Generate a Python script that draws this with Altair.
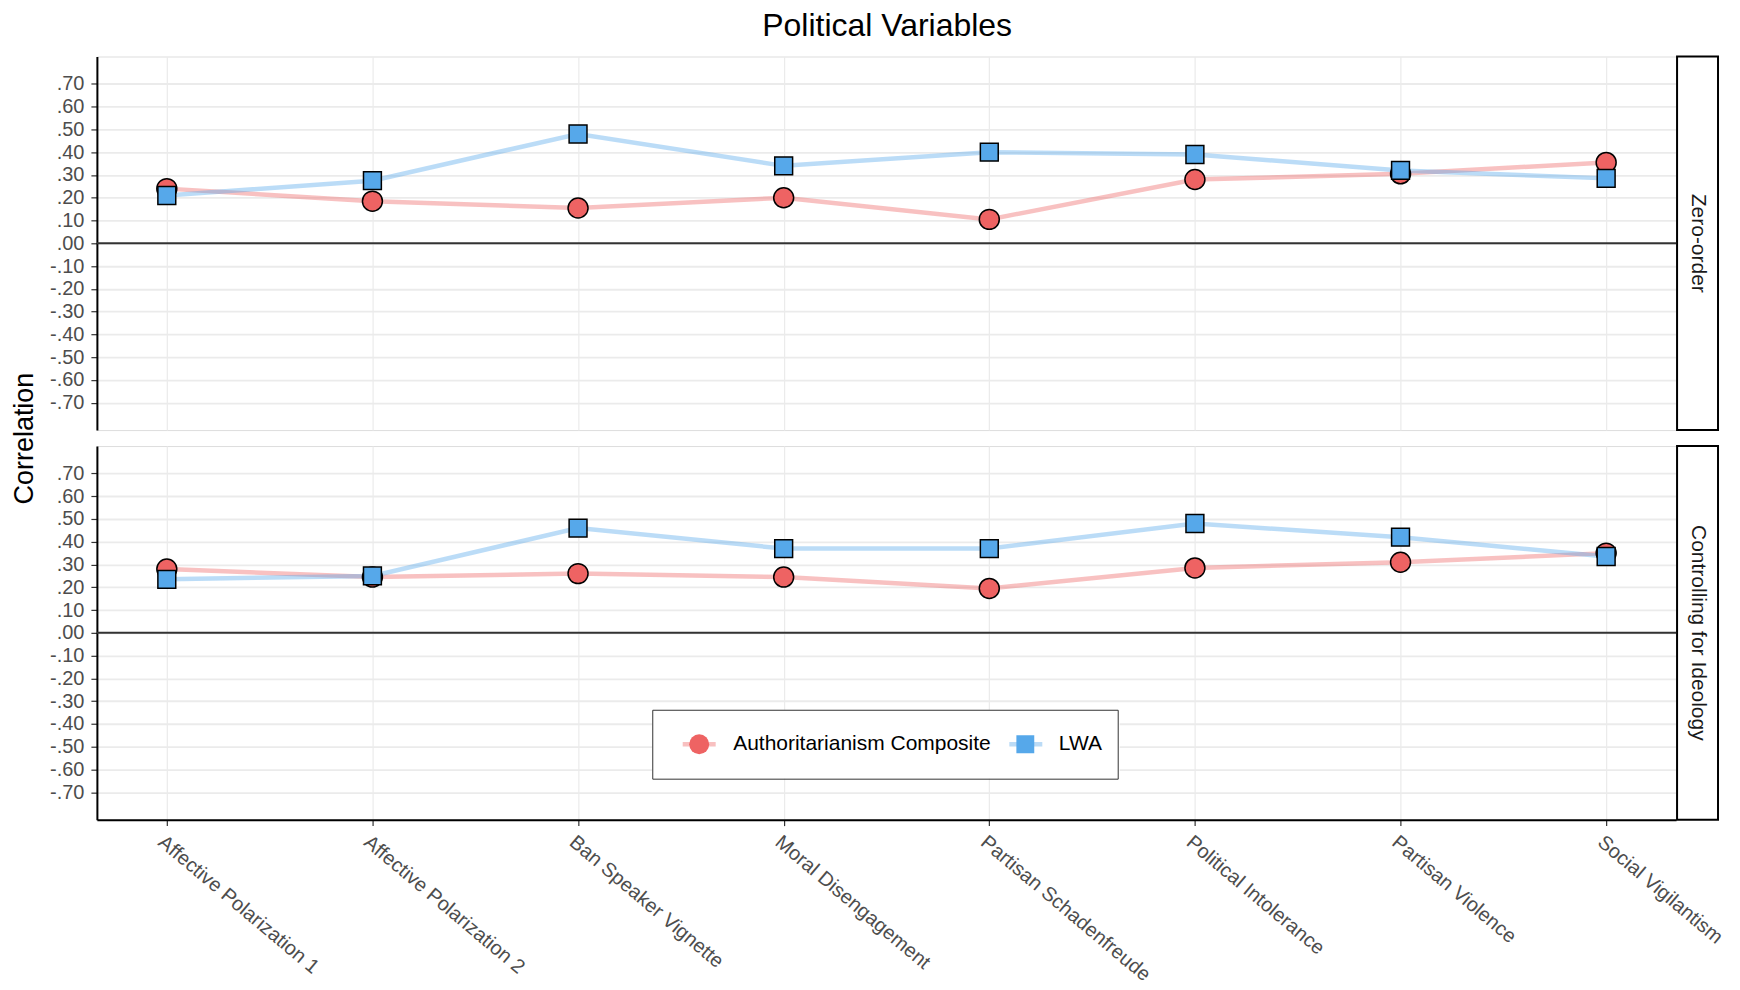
import altair as alt
import pandas as pd

categories = [
    "Affective Polarization 1",
    "Affective Polarization 2",
    "Ban Speaker Vignette",
    "Moral Disengagement",
    "Partisan Schadenfreude",
    "Political Intolerance",
    "Partisan Violence",
    "Social Vigilantism",
]
series_names = ["Authoritarianism Composite", "LWA"]
panel_names = ["Zero-order", "Controlling for Ideology"]

zero_auth = [0.24, 0.185, 0.155, 0.20, 0.105, 0.28, 0.305, 0.355]
zero_lwa = [0.21, 0.275, 0.48, 0.34, 0.40, 0.39, 0.32, 0.285]
ctrl_auth = [0.28, 0.245, 0.26, 0.245, 0.195, 0.285, 0.31, 0.35]
ctrl_lwa = [0.235, 0.25, 0.46, 0.37, 0.37, 0.48, 0.42, 0.335]

y_ticks = [-0.7, -0.6, -0.5, -0.4, -0.3, -0.2, -0.1, 0.0,
           0.1, 0.2, 0.3, 0.4, 0.5, 0.6, 0.7]
zero_line = [0.0]

FONT = "Liberation Sans"
point_colors = ["#EE6363", "#56A8EA"]
point_shapes = ["circle", "square"]
point_sizes = [400, 320]

W = 1581
H = 374


def make_df(auth, lwa):
    rows = []
    for s, vals in zip(series_names, [auth, lwa]):
        for c, v in zip(categories, vals):
            rows.append({"category": c, "series": s, "series_l": s, "r": v})
    return pd.DataFrame(rows)


# legend placement inside the bottom panel
LX, LY = 556, 264
LW, LH = 468, 69

point_legend = alt.Legend(
    title=None, orient="none", legendX=LX, legendY=LY, direction="horizontal",
    symbolStrokeColor="black", symbolStrokeWidth=1.5, labelFontSize=21,
    labelColor="black", labelLimit=600, strokeColor="#333333", padding=15,
    clipHeight=39, symbolOffset=21, labelOffset=23, columnPadding=3, zindex=2,
)
line_legend = alt.Legend(
    title=None, orient="none", legendX=LX, legendY=LY, direction="horizontal",
    symbolType="stroke", symbolSize=1089, symbolStrokeWidth=4.5, symbolOpacity=0.4,
    labelFontSize=21, labelExpr="''", padding=15, clipHeight=39,
    symbolOffset=13, labelOffset=15, columnPadding=261, zindex=1,
)


def panel(auth, lwa, label, bottom):
    df = make_df(auth, lwa)
    if bottom:
        xaxis = alt.Axis(
            title=None, labelAngle=40, labelAlign="left", labelBaseline="top",
            labelFontSize=20, labelColor="#4D4D4D", labelPadding=6, labelLimit=500,
            labelOverlap=False, tickColor="#333333", tickSize=6, tickWidth=1.2,
            domainColor="black", domainWidth=2, grid=True, gridColor="#EBEBEB",
            gridWidth=1.2,
        )
    else:
        xaxis = alt.Axis(
            title=None, labels=False, ticks=False, domain=False, grid=True,
            gridColor="#EBEBEB", gridWidth=1.2,
        )
    yaxis_kwargs = dict(
        values=y_ticks,
        labelExpr="(datum.value < 0 ? '-' : '') + replace(format(abs(datum.value), '.2f'), '0.', '.')",
        labelFontSize=20, labelColor="#4D4D4D", labelPadding=7,
        labelOverlap=False, labelSeparation=0, labelBound=False,
        tickSize=6, tickColor="#333333", tickWidth=1.2,
        domainColor="black", domainWidth=2,
        grid=True, gridColor="#EBEBEB", gridWidth=1.8,
    )
    if bottom:
        yaxis = alt.Axis(title=None, **yaxis_kwargs)
    else:
        yaxis = alt.Axis(
            title="Correlation", titleY=H + 8, titleFontSize=27,
            titleFontWeight="normal", titleColor="black", titlePadding=11,
            **yaxis_kwargs,
        )
    yscale = alt.Scale(domain=[-0.82, 0.82], nice=False, zero=False)

    x = alt.X("category:N", sort=categories, scale=alt.Scale(padding=0.34), axis=xaxis)
    y = alt.Y("r:Q", scale=yscale, axis=yaxis)
    y0 = alt.Y("zero:Q", scale=yscale, axis=yaxis)

    layers = []
    if bottom:
        bg = alt.Chart(pd.DataFrame({"box": ["legend"]})).mark_rect(
            fill="white"
        ).encode(x=alt.value(LX), x2=alt.value(LX + LW), y=alt.value(LY), y2=alt.value(LY + LH))
        layers.append(bg)

    zero = alt.Chart(pd.DataFrame({"zero": zero_line})).mark_rule(
        color="#333333", strokeWidth=2
    ).encode(y=y0)

    lines = alt.Chart(df).mark_line(strokeWidth=4.5, opacity=0.4).encode(
        x=x, y=y,
        color=alt.Color("series_l:N", scale=alt.Scale(range=point_colors),
                        legend=line_legend if bottom else None),
        detail="series:N",
    )

    pl = point_legend if bottom else None
    points = alt.Chart(df).mark_point(
        filled=True, stroke="black", strokeWidth=1.5, opacity=1
    ).encode(
        x=x, y=y,
        fill=alt.Fill("series:N", scale=alt.Scale(domain=series_names, range=point_colors), legend=pl),
        shape=alt.Shape("series:N", scale=alt.Scale(domain=series_names, range=point_shapes), legend=pl),
        size=alt.Size("series:N", scale=alt.Scale(domain=series_names, range=point_sizes), legend=pl),
    )

    sdata = pd.DataFrame({"label": [label]})
    strip_rect = alt.Chart(sdata).mark_rect(
        fill="white", stroke="black", strokeWidth=2
    ).encode(x=alt.value(W + 1), x2=alt.value(W + 42), y=alt.value(0), y2=alt.value(H))
    strip_text = alt.Chart(sdata).mark_text(
        angle=90, fontSize=21, color="#1A1A1A", baseline="middle", align="center"
    ).encode(x=alt.value(W + 21.5), y=alt.value(H / 2), text="label:N")

    layers += [zero, lines, points, strip_rect, strip_text]
    return alt.layer(*layers).properties(width=W, height=H)


top = panel(zero_auth, zero_lwa, panel_names[0], False)
bot = panel(ctrl_auth, ctrl_lwa, panel_names[1], True)

chart = alt.vconcat(top, bot, spacing=16, bounds="flush").resolve_legend(
    color="independent", fill="independent", shape="independent", size="independent"
).properties(
    title=alt.Title("Political Variables", fontSize=32, fontWeight="normal",
                    color="black", anchor="middle", dx=19, offset=12),
    padding={"left": 2, "top": 1, "right": 5, "bottom": 5},
).configure_view(stroke=None).configure(font=FONT)

chart.save("out.html", embed_options={"renderer": "svg", "actions": False})
